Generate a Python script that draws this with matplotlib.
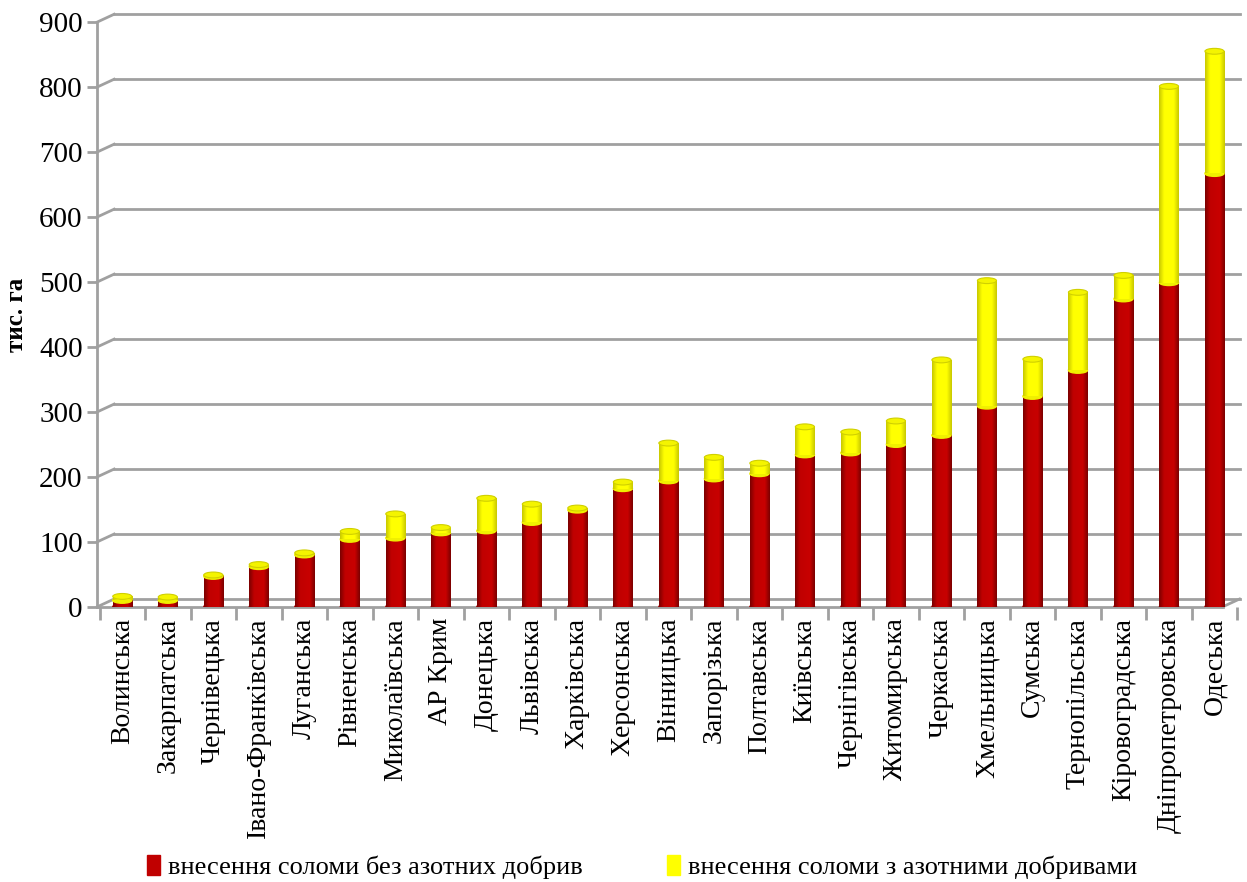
import matplotlib.pyplot as plt
from matplotlib.patches import Ellipse
from matplotlib.colors import LinearSegmentedColormap
import numpy as np

regions = ["Волинська", "Закарпатська", "Чернівецька", "Івано-Франківська", "Луганська",
           "Рівненська", "Миколаївська", "АР Крим", "Донецька", "Львівська", "Харківська",
           "Херсонська", "Вінницька", "Запорізька", "Полтавська", "Київська", "Чернігівська",
           "Житомирська", "Черкаська", "Хмельницька", "Сумська", "Тернопільська",
           "Кіровоградська", "Дніпропетровська", "Одеська"]
no_nitrogen = [10, 10, 47, 62, 80, 104, 106, 114, 117, 130, 149, 182, 194, 197, 205,
               234, 237, 250, 264, 309, 324, 364, 474, 499, 667]
with_nitrogen = [6, 5, 2, 3, 3, 12, 37, 8, 50, 28, 3, 10, 58, 33, 16,
                 43, 32, 36, 116, 193, 57, 120, 36, 302, 188]
y_ticks = [0, 100, 200, 300, 400, 500, 600, 700, 800, 900]
series_names = ["внесення соломи без азотних добрив", "внесення соломи з азотними добривами"]

RED = "#C00000"
YELLOW = "#FFFF00"
GRID = "#A0A0A0"

red_cmap = LinearSegmentedColormap.from_list(
    "red_cyl", [(0, "#7A0000"), (0.25, "#C00000"), (0.75, "#C80000"), (1, "#7A0000")])
yel_cmap = LinearSegmentedColormap.from_list(
    "yel_cyl", [(0, "#C8C800"), (0.25, "#FFFF00"), (0.75, "#FFFF00"), (1, "#C8C800")])

plt.rcParams['font.family'] = ['Liberation Serif', 'DejaVu Serif']

fig = plt.figure(figsize=(12.47, 8.82), dpi=100)
ax = fig.add_axes([0.078, 0.312, 0.916, 0.663])

x = np.arange(len(regions))
x_lo, x_hi = -0.55, len(regions) - 0.45

# back wall offset of the pseudo 3D look
dx, dy = 0.37, 12
for v in y_ticks:
    ax.plot([x_lo + dx, x_hi], [v + dy, v + dy], color=GRID, lw=2, zorder=1, clip_on=False)
    ax.plot([x_lo, x_lo + dx], [v, v + dy], color=GRID, lw=2, zorder=1, clip_on=False)
# floor right side
ax.plot([x_hi - dx, x_hi], [0, dy], color=GRID, lw=2, zorder=1, clip_on=False)

w = 0.42
eh = 9
bars_r = ax.bar(x, no_nitrogen, width=w, color=RED, zorder=3)
bars_y = ax.bar(x, with_nitrogen, width=w, bottom=no_nitrogen, color=YELLOW, zorder=3)

# cylinder shading
grad = np.linspace(0, 1, 64).reshape(1, -1)
for bars, cmap, zo in [(bars_r, red_cmap, 3.2), (bars_y, yel_cmap, 3.6)]:
    for p in bars:
        im = ax.imshow(grad, extent=[p.get_x(), p.get_x() + p.get_width(),
                                     p.get_y(), p.get_y() + p.get_height()],
                       cmap=cmap, aspect="auto", interpolation="bilinear", zorder=zo)
        im.set_clip_path(p)

for xi, r, yv in zip(x, no_nitrogen, with_nitrogen):
    ax.add_patch(Ellipse((xi, 0), w, eh, color="#A80000", zorder=3.1))
    ax.add_patch(Ellipse((xi, r), w, eh, color="#F0F000", zorder=3.5))
    ax.add_patch(Ellipse((xi, r + yv), w, eh, facecolor="#F4F400", edgecolor="#D0D000",
                         lw=0.8, zorder=5))

ax.set_xlim(x_lo, x_hi)
ax.set_ylim(0, 900)

for s in ["top", "right"]:
    ax.spines[s].set_visible(False)
for s in ["left", "bottom"]:
    ax.spines[s].set_color(GRID)
    ax.spines[s].set_linewidth(2)
ax.spines["bottom"].set_bounds(x_lo, x_hi - dx)

ax.set_yticks(y_ticks)
ax.tick_params(axis="y", length=7, width=2, color=GRID, labelsize=21)
ax.set_xticks(x)
ax.set_xticklabels(regions, rotation=90, fontsize=20)
ax.tick_params(axis="x", length=0, pad=8)
ax.set_xticks(np.arange(len(regions) + 1) - 0.5, minor=True)
ax.tick_params(axis="x", which="minor", length=9, width=2, color=GRID)

ax.set_ylabel("тис. га", fontsize=18, fontweight="bold", labelpad=8)

handles = [plt.Rectangle((0, 0), 1, 1, color=RED), plt.Rectangle((0, 0), 1, 1, color=YELLOW)]
fig.legend(handles, series_names, loc="lower center", bbox_to_anchor=(0.515, -0.024), ncol=2,
           frameon=False, fontsize=19, handlelength=0.5, handleheight=0.8,
           handletextpad=0.3, columnspacing=3.2)

fig.savefig("out.png", dpi=100)
